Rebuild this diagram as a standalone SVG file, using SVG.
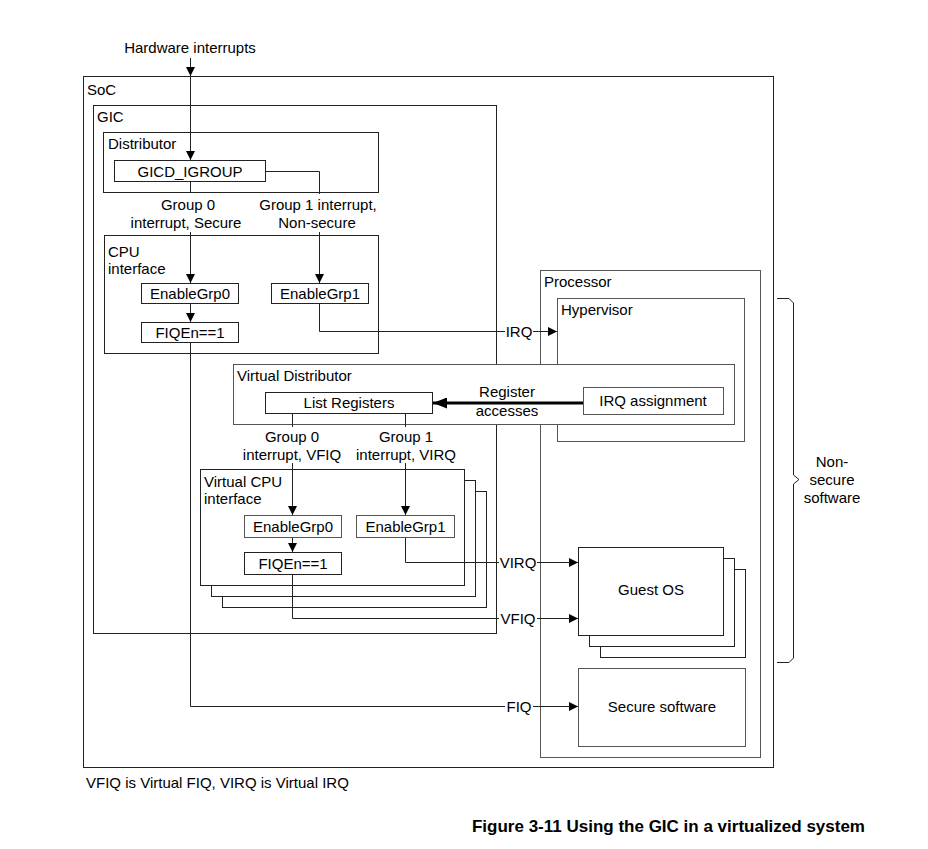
<svg xmlns="http://www.w3.org/2000/svg" width="928" height="849" viewBox="0 0 928 849">
<style>
text{font-family:"Liberation Sans",Arial,sans-serif;font-size:15px;fill:#000}
.m{text-anchor:middle}
.cap{font-weight:bold;font-size:17px;text-anchor:end}
.box{fill:#fff;stroke:#222;stroke-width:1}
.gbox{fill:#fff;stroke:#555;stroke-width:1}
.ln{fill:none;stroke:#222;stroke-width:1}
.thick{fill:none;stroke:#000;stroke-width:3}
</style>
<defs>
<marker id="ah" viewBox="0 0 10 10" refX="10" refY="5" markerWidth="9" markerHeight="9" markerUnits="userSpaceOnUse" orient="auto">
<path d="M0,0 L10,5 L0,10 z" fill="#000"/>
</marker>
<marker id="ahb" viewBox="0 0 10 10" refX="10" refY="5" markerWidth="14" markerHeight="11" markerUnits="userSpaceOnUse" orient="auto" preserveAspectRatio="none">
<path d="M0,0 L10,5 L0,10 z" fill="#000"/>
</marker>
</defs>
<rect width="928" height="849" fill="#fff"/>
<text x="190" y="53" class="m">Hardware interrupts</text>
<g id="soc">
<rect x="83.5" y="76.5" width="690" height="691" class="box"/>
<text x="87" y="95">SoC</text>
</g>
<g id="gic">
<rect x="93.5" y="105.5" width="403" height="528" class="box"/>
<text x="97" y="122">GIC</text>
</g>
<g id="processor">
<rect x="540.5" y="270.5" width="220" height="487" class="gbox"/>
<text x="544" y="287">Processor</text>
</g>
<g id="hypervisor">
<rect x="557.5" y="298.5" width="187" height="143" class="gbox"/>
<text x="561" y="315">Hypervisor</text>
</g>
<g id="distributor">
<rect x="103.5" y="132.5" width="275" height="60" class="box"/>
<text x="108" y="149">Distributor</text>
</g>
<g id="gicd_igroup">
<rect x="114.5" y="160.5" width="151" height="21" class="box"/>
<text x="190" y="176.5" class="m">GICD_IGROUP</text>
</g>
<g id="group0_label">
<text x="188" y="210" class="m">Group 0</text>
<text x="186" y="228" class="m">interrupt, Secure</text>
</g>
<g id="group1_label">
<text x="318" y="210" class="m">Group 1 interrupt,</text>
<text x="317" y="228" class="m">Non-secure</text>
</g>
<g id="cpu_interface">
<rect x="104.5" y="235.5" width="274" height="118" class="box"/>
<text x="108" y="257">CPU</text>
<text x="108" y="274">interface</text>
</g>
<g id="enablegrp0">
<rect x="141.5" y="283.5" width="97" height="20" class="box"/>
<text x="190" y="298.5" class="m">EnableGrp0</text>
</g>
<g id="enablegrp1">
<rect x="271.5" y="283.5" width="97" height="20" class="box"/>
<text x="320" y="298.5" class="m">EnableGrp1</text>
</g>
<g id="fiqen">
<rect x="141.5" y="322.5" width="97" height="20" class="box"/>
<text x="190" y="337.5" class="m">FIQEn==1</text>
</g>
<g id="virtual_distributor">
<rect x="233.5" y="364.5" width="501" height="60" class="gbox"/>
<text x="237" y="381">Virtual Distributor</text>
</g>
<g id="list_registers">
<rect x="265.5" y="392.5" width="167" height="21" class="box"/>
<text x="349" y="408" class="m">List Registers</text>
</g>
<g id="irq_assignment">
<rect x="583.5" y="387.5" width="140" height="27" class="gbox"/>
<text x="653" y="406" class="m">IRQ assignment</text>
</g>
<g id="register_accesses_label">
<text x="507" y="397" class="m">Register</text>
<text x="507" y="416" class="m">accesses</text>
</g>
<g id="vgroup0_label">
<text x="292" y="442" class="m">Group 0</text>
<text x="292" y="460" class="m">interrupt, VFIQ</text>
</g>
<g id="vgroup1_label">
<text x="406" y="442" class="m">Group 1</text>
<text x="406" y="460" class="m">interrupt, VIRQ</text>
</g>
<g id="virtual_cpu_interface">
<rect x="222.5" y="491.5" width="264" height="116" class="box"/>
<rect x="211.5" y="480.5" width="264" height="116" class="box"/>
<rect x="200.5" y="469.5" width="264" height="116" class="box"/>
<text x="204" y="487">Virtual CPU</text>
<text x="204" y="504">interface</text>
</g>
<g id="v_enablegrp0">
<rect x="244.5" y="515.5" width="97" height="22" class="gbox"/>
<text x="293" y="531.5" class="m">EnableGrp0</text>
</g>
<g id="v_enablegrp1">
<rect x="356.5" y="515.5" width="98" height="22" class="gbox"/>
<text x="405.5" y="531.5" class="m">EnableGrp1</text>
</g>
<g id="v_fiqen">
<rect x="244.5" y="552.5" width="97" height="22" class="box"/>
<text x="293" y="569" class="m">FIQEn==1</text>
</g>
<g id="guest_os">
<rect x="600.5" y="569.5" width="145" height="88" class="box"/>
<rect x="589.5" y="558.5" width="145" height="88" class="box"/>
<rect x="578.5" y="547.5" width="145" height="88" class="box"/>
<text x="651" y="595" class="m">Guest OS</text>
</g>
<g id="secure_software">
<rect x="578.5" y="668.5" width="167" height="78" class="gbox"/>
<text x="662" y="712" class="m">Secure software</text>
</g>
<g id="non_secure_bracket">
<path d="M777,298.5 H789 L793.5,303 V475 L799,479.5 L793.5,484 V658 L789,662.5 H777" class="ln"/>
<text x="832" y="467" class="m">Non-</text>
<text x="832" y="485" class="m">secure</text>
<text x="832" y="503" class="m">software</text>
</g>
<g id="connectors">
<path d="M190.5,58 V76" class="ln" marker-end="url(#ah)"/>
<path d="M190.5,76 V160" class="ln" marker-end="url(#ah)"/>
<path d="M190.5,182 V193" class="ln"/>
<path d="M190.5,232 V283" class="ln" marker-end="url(#ah)"/>
<path d="M266,171.5 H319.5 V194" class="ln"/>
<path d="M319.5,232 V283" class="ln" marker-end="url(#ah)"/>
<path d="M190.5,303 V322" class="ln" marker-end="url(#ah)"/>
<path d="M319.5,304 V331.5 H505" class="ln"/>
<text x="519" y="337" class="m">IRQ</text>
<path d="M533,331.5 H557" class="ln" marker-end="url(#ah)"/>
<path d="M190.5,343 V706.5 H505" class="ln"/>
<text x="519" y="712" class="m">FIQ</text>
<path d="M533,706.5 H578" class="ln" marker-end="url(#ah)"/>
<path d="M583,403 H433" class="thick" marker-end="url(#ahb)"/>
<path d="M292.5,414 V427" class="ln"/>
<path d="M292.5,463 V515" class="ln" marker-end="url(#ah)"/>
<path d="M405.5,414 V427" class="ln"/>
<path d="M405.5,463 V515" class="ln" marker-end="url(#ah)"/>
<path d="M292.5,538 V552" class="ln" marker-end="url(#ah)"/>
<path d="M405.5,538 V562.5 H499" class="ln"/>
<text x="518" y="568" class="m">VIRQ</text>
<path d="M537,562.5 H578" class="ln" marker-end="url(#ah)"/>
<path d="M292.5,575 V618.5 H499" class="ln"/>
<text x="518" y="624" class="m">VFIQ</text>
<path d="M537,618.5 H578" class="ln" marker-end="url(#ah)"/>
</g>
<text x="86" y="788">VFIQ is Virtual FIQ, VIRQ is Virtual IRQ</text>
<text x="865" y="832" class="cap">Figure 3-11 Using the GIC in a virtualized system</text>
</svg>
